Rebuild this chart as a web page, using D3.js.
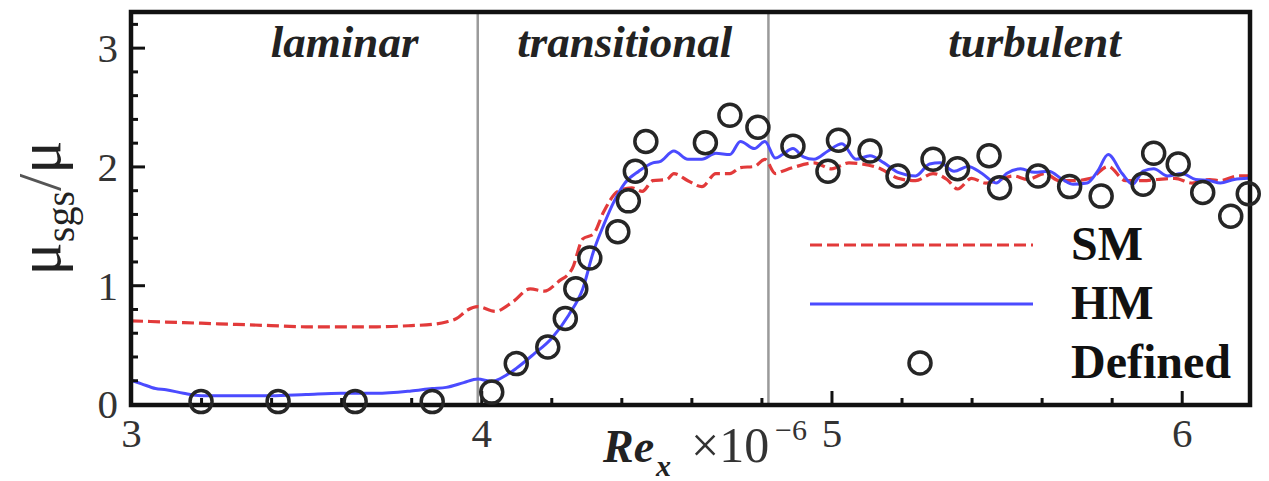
<!DOCTYPE html>
<html>
<head>
<meta charset="utf-8">
<script src="https://cdn.jsdelivr.net/npm/d3@7/dist/d3.min.js"></script>
<style>
  html, body { margin: 0; padding: 0; background: #fff; }
  svg { display: block; }
  text { font-family: "Liberation Serif", "Times New Roman", serif; }
</style>
</head>
<body>
<svg id="chart" width="1269" height="481"></svg>
<script>
// ---- data (Re_x x 1e-6 , mu_sgs/mu) ----
const hmX = [3.00,3.03,3.07,3.10,3.15,3.20,3.30,3.40,3.50,3.60,3.70,3.80,3.86,3.90,3.95,3.99,4.03,4.07,4.10,4.15,4.20,4.25,4.29,4.32,4.35,4.38,4.41,4.45,4.49,4.51,4.55,4.59,4.63,4.67,4.71,4.74,4.78,4.81,4.84,4.86,4.89,4.92,4.95,4.99,5.03,5.07,5.11,5.15,5.19,5.24,5.28,5.31,5.35,5.39,5.43,5.47,5.50,5.54,5.58,5.62,5.66,5.69,5.73,5.76,5.79,5.83,5.86,5.89,5.92,5.96,6.00,6.04,6.08,6.11,6.15,6.19];
const hmY = [0.20,0.17,0.13,0.12,0.09,0.07,0.07,0.07,0.08,0.09,0.09,0.11,0.13,0.14,0.18,0.21,0.19,0.24,0.30,0.42,0.55,0.75,0.97,1.28,1.51,1.71,1.86,1.96,2.03,2.04,2.13,2.06,2.06,2.11,2.10,2.21,2.15,2.21,2.07,2.10,2.15,2.08,2.06,2.13,2.19,2.06,2.09,2.03,1.95,1.92,2.02,2.03,1.96,2.00,1.94,1.86,1.94,1.98,1.95,1.96,1.89,1.85,1.86,1.96,2.10,1.94,1.85,1.96,1.98,1.92,1.94,1.89,1.88,1.86,1.89,1.90];

const smX = [3.00,3.10,3.20,3.30,3.40,3.50,3.60,3.70,3.80,3.86,3.90,3.93,3.96,3.99,4.04,4.09,4.14,4.18,4.22,4.26,4.29,4.32,4.35,4.39,4.43,4.46,4.49,4.53,4.55,4.59,4.63,4.67,4.71,4.74,4.78,4.81,4.84,4.86,4.89,4.95,5.00,5.05,5.09,5.14,5.19,5.24,5.29,5.33,5.36,5.40,5.44,5.48,5.52,5.56,5.61,5.65,5.69,5.74,5.79,5.84,5.89,5.93,5.98,6.03,6.08,6.11,6.16,6.19];
const smY = [0.70,0.69,0.68,0.67,0.66,0.65,0.65,0.65,0.66,0.67,0.69,0.72,0.79,0.82,0.78,0.86,0.97,0.95,1.03,1.14,1.39,1.43,1.62,1.79,1.82,1.79,1.88,1.89,1.94,1.88,1.83,1.94,1.94,1.99,2.00,2.06,1.94,1.96,1.99,2.03,1.98,2.03,2.02,1.98,1.90,1.88,1.94,1.89,1.81,1.90,1.86,1.89,1.92,1.89,1.94,1.88,1.88,1.90,2.00,1.88,1.88,1.89,1.90,1.86,1.89,1.88,1.92,1.92];

const defX = [3.20,3.42,3.64,3.86,4.03,4.10,4.19,4.24,4.27,4.31,4.39,4.42,4.44,4.47,4.64,4.71,4.79,4.89,4.99,5.02,5.11,5.19,5.29,5.36,5.45,5.48,5.59,5.68,5.77,5.89,5.92,5.99,6.06,6.14,6.19];
const defY = [0.02,0.02,0.02,0.02,0.10,0.34,0.48,0.72,0.97,1.23,1.45,1.71,1.96,2.21,2.20,2.43,2.33,2.17,1.96,2.22,2.13,1.92,2.06,1.98,2.09,1.82,1.92,1.83,1.75,1.85,2.11,2.02,1.78,1.58,1.77];

const xMajor = [3, 4, 5, 6];
const xMinor = [3.2,3.4,3.6,3.8,4.2,4.4,4.6,4.8,5.2,5.4,5.6,5.8,6.2].filter(v => v < 6.19);
const yMajor = [0, 1, 2, 3];
const yMinor = [0.2,0.4,0.6,0.8,1.2,1.4,1.6,1.8,2.2,2.4,2.6,2.8,3.2];
const regionBounds = [3.99, 4.82];
const regions = [
  {name: "laminar", x: 3.61},
  {name: "transitional", x: 4.41},
  {name: "turbulent", x: 5.58}
];
const legendItems = [
  {name: "SM", kind: "dash"},
  {name: "HM", kind: "line"},
  {name: "Defined", kind: "circle"}
];

// ---- layout ----
const L = 131, R = 1250, T = 12, B = 404;
const x = d3.scaleLinear().domain([3, 6.195]).range([L, R]);
const y = d3.scaleLinear().domain([0, 3.3]).range([B, T]);

const svg = d3.select("#chart");
const RED = "#e23a3a", BLUE = "#4b4bff", DARK = "#262626";

// region divider lines
svg.selectAll("line.div").data(regionBounds).enter().append("line")
  .attr("x1", d => x(d)).attr("x2", d => x(d))
  .attr("y1", T).attr("y2", B)
  .attr("stroke", "#9a9a9a").attr("stroke-width", 2.5);

// region labels
svg.selectAll("text.region").data(regions).enter().append("text")
  .attr("x", d => x(d.x)).attr("y", 57)
  .attr("text-anchor", "middle")
  .attr("font-size", 45).attr("font-weight", "bold").attr("font-style", "italic")
  .attr("fill", "#222")
  .text(d => d.name);

// lines
const lineGen = d3.line().x(d => x(d[0])).y(d => y(d[1])).curve(d3.curveMonotoneX);
svg.append("path").datum(smX.map((v, i) => [v, smY[i]]))
  .attr("d", lineGen).attr("fill", "none").attr("stroke", RED)
  .attr("stroke-width", 3.2).attr("stroke-dasharray", "12,5");
svg.append("path").datum(hmX.map((v, i) => [v, hmY[i]]))
  .attr("d", lineGen).attr("fill", "none").attr("stroke", BLUE)
  .attr("stroke-width", 3);

// frame
svg.append("rect").attr("x", L).attr("y", T).attr("width", R - L).attr("height", B + 1 - T)
  .attr("fill", "none").attr("stroke", "#111").attr("stroke-width", 4.5);

// axes
const gx = svg.append("g").attr("transform", `translate(0,${B + 1})`);
gx.call(d3.axisBottom(x).tickValues(xMajor).tickSizeInner(-14).tickSizeOuter(0).tickPadding(12).tickFormat(d3.format("d")));
const gxm = svg.append("g").attr("transform", `translate(0,${B + 1})`);
gxm.call(d3.axisBottom(x).tickValues(xMinor).tickSizeInner(-7).tickSizeOuter(0).tickFormat(""));
const gy = svg.append("g").attr("transform", `translate(${L},0)`);
gy.call(d3.axisLeft(y).tickValues(yMajor).tickSizeInner(-14).tickSizeOuter(0).tickPadding(13).tickFormat(d3.format("d")));
const gym = svg.append("g").attr("transform", `translate(${L},0)`);
gym.call(d3.axisLeft(y).tickValues(yMinor).tickSizeInner(-7).tickSizeOuter(0).tickFormat(""));
svg.selectAll(".domain").remove();
svg.selectAll(".tick line").attr("stroke", "#111").attr("stroke-width", 3);
svg.selectAll(".tick text").attr("font-family", "'Liberation Serif', 'Times New Roman', serif")
  .attr("font-size", 41).attr("fill", "#333");
gx.selectAll(".tick text").attr("dy", "0.74em");
gy.selectAll(".tick text").attr("dy", "0.34em");

// Defined circles
svg.selectAll("circle.def").data(defX.map((v, i) => [v, defY[i]])).enter().append("circle")
  .attr("cx", d => x(d[0])).attr("cy", d => y(d[1])).attr("r", 11)
  .attr("fill", "none").attr("stroke", DARK).attr("stroke-width", 3.5);

// legend
const lg = svg.append("g");
legendItems.forEach((it, i) => {
  const cy = 245 + i * 59;
  if (it.kind === "dash") {
    lg.append("line").attr("x1", 810).attr("x2", 1033).attr("y1", cy).attr("y2", cy)
      .attr("stroke", RED).attr("stroke-width", 3.2).attr("stroke-dasharray", "12,5");
  } else if (it.kind === "line") {
    lg.append("line").attr("x1", 810).attr("x2", 1033).attr("y1", cy).attr("y2", cy)
      .attr("stroke", BLUE).attr("stroke-width", 3);
  } else {
    lg.append("circle").attr("cx", 920).attr("cy", cy).attr("r", 11)
      .attr("fill", "none").attr("stroke", DARK).attr("stroke-width", 3.5);
  }
  lg.append("text").attr("x", 1071).attr("y", cy + 15)
    .attr("font-size", 48).attr("font-weight", "bold").attr("fill", "#111")
    .text(it.name);
});

// x axis label
svg.append("text").attr("x", 603).attr("y", 462)
  .attr("font-size", 46).attr("font-weight", "bold").attr("font-style", "italic").attr("fill", "#222")
  .text("Re");
svg.append("text").attr("x", 656).attr("y", 476)
  .attr("font-size", 30).attr("font-weight", "bold").attr("font-style", "italic").attr("fill", "#222")
  .text("x");
svg.append("text").attr("x", 691).attr("y", 462)
  .attr("font-size", 50).attr("fill", "#333")
  .text("×10");
svg.append("text").attr("x", 775).attr("y", 440)
  .attr("font-size", 30).attr("fill", "#333")
  .text("−6");

// y axis label (rotated)
const yl = svg.append("text")
  .attr("transform", "translate(60,208) rotate(-90)")
  .attr("text-anchor", "middle").attr("fill", "#222");
yl.append("tspan").attr("font-size", 62).text("μ");
yl.append("tspan").attr("font-size", 40).attr("dy", 14).text("sgs");
yl.append("tspan").attr("font-size", 62).attr("dy", -14).attr("fill", "#555").text("/");
yl.append("tspan").attr("font-size", 62).text("μ");
</script>
</body>
</html>
